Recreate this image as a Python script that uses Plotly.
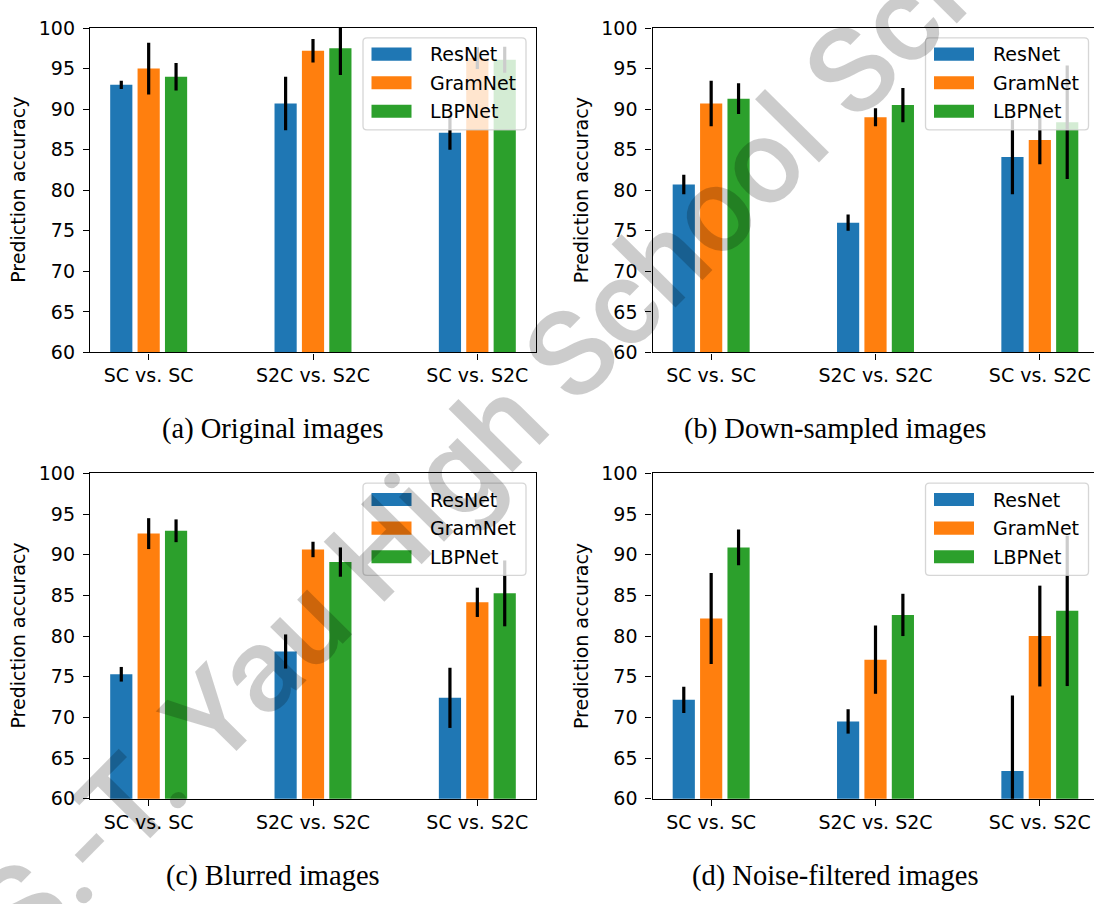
import plotly.graph_objects as go

W, H = 1094, 904

CATEGORIES = ["SC vs. SC", "S2C vs. S2C", "SC vs. S2C"]
MODELS = ["ResNet", "GramNet", "LBPNet"]
COLORS = ["#1f77b4", "#ff7f0e", "#2ca02c"]
CAPTIONS = [
    "(a) Original images",
    "(b) Down-sampled images",
    "(c) Blurred images",
    "(d) Noise-filtered images",
]
Y_TICKS = [60, 65, 70, 75, 80, 85, 90, 95, 100]

# mean accuracy and spread per model, one list per category order above
original_resnet = [93.0, 90.7, 87.1]
original_resnet_err = [0.5, 3.3, 2.1]
original_gramnet = [95.0, 97.2, 96.3]
original_gramnet_err = [3.2, 1.45, 1.35]
original_lbpnet = [94.0, 97.5, 96.1]
original_lbpnet_err = [1.7, 3.3, 1.6]

downsampled_resnet = [80.7, 76.0, 84.1]
downsampled_resnet_err = [1.2, 1.0, 4.6]
downsampled_gramnet = [90.7, 89.0, 86.2]
downsampled_gramnet_err = [2.8, 1.1, 3.0]
downsampled_lbpnet = [91.3, 90.5, 88.4]
downsampled_lbpnet_err = [1.9, 2.1, 7.0]

blurred_resnet = [75.3, 78.1, 72.4]
blurred_resnet_err = [0.9, 2.1, 3.7]
blurred_gramnet = [92.6, 90.65, 84.15]
blurred_gramnet_err = [1.9, 0.95, 1.8]
blurred_lbpnet = [92.95, 89.1, 85.25]
blurred_lbpnet_err = [1.4, 1.8, 4.05]

filtered_resnet = [72.15, 69.5, 63.4]
filtered_resnet_err = [1.6, 1.5, 9.3]
filtered_gramnet = [82.15, 77.1, 80.0]
filtered_gramnet_err = [5.6, 4.2, 6.2]
filtered_lbpnet = [90.9, 82.6, 83.1]
filtered_lbpnet_err = [2.2, 2.6, 9.25]

PANELS = [
    ([original_resnet, original_gramnet, original_lbpnet],
     [original_resnet_err, original_gramnet_err, original_lbpnet_err]),
    ([downsampled_resnet, downsampled_gramnet, downsampled_lbpnet],
     [downsampled_resnet_err, downsampled_gramnet_err, downsampled_lbpnet_err]),
    ([blurred_resnet, blurred_gramnet, blurred_lbpnet],
     [blurred_resnet_err, blurred_gramnet_err, blurred_lbpnet_err]),
    ([filtered_resnet, filtered_gramnet, filtered_lbpnet],
     [filtered_resnet_err, filtered_gramnet_err, filtered_lbpnet_err]),
]

# axes boxes in pixels: left, right, top, bottom (right column runs past the page edge)
BOXES = [
    (90.0, 536.0, 17.5, 350.0),
    (652.5, 1098.5, 17.5, 350.0),
    (90.0, 536.0, 474.0, 807.3),
    (652.5, 1098.5, 474.0, 807.3),
]
X_MIN, X_MAX = -0.357, 2.357
BAR_OFFSETS = [-1 / 6, 0.0, 1 / 6]
BAR_WIDTH = 0.135

TICK_FONT = dict(family="DejaVu Sans", size=19, color="black")
CAPTION_FONT = dict(family="Liberation Serif", size=28.5, color="black")


def fx(px):
    return px / W


def fy(py):
    return 1 - py / H


fig = go.Figure()
shapes = []
annotations = []

for p, ((means, errs), (left, right, top, bottom)) in enumerate(zip(PANELS, BOXES)):
    suffix = "" if p == 0 else str(p + 1)
    xa, ya = "x" + suffix, "y" + suffix
    for m, model in enumerate(MODELS):
        fig.add_trace(go.Bar(
            x=[i + BAR_OFFSETS[m] for i in range(len(CATEGORIES))],
            y=means[m],
            width=BAR_WIDTH,
            name=model,
            marker=dict(color=COLORS[m], line=dict(width=0)),
            error_y=dict(type="data", array=errs[m], visible=True,
                         color="black", thickness=3.2, width=0),
            xaxis=xa, yaxis=ya, showlegend=False,
        ))

    span = (right - left) / (X_MAX - X_MIN)
    vis_right = min(right, W)
    x_hi = X_MIN + (vis_right - left) / span
    clipped = right > W

    fig.layout["xaxis" + suffix] = dict(
        domain=[fx(left), fx(vis_right)], anchor=ya, range=[X_MIN, x_hi],
        tickvals=list(range(len(CATEGORIES))), ticktext=CATEGORIES,
        ticks="outside", ticklen=6, tickwidth=1.3, tickcolor="black",
        showline=True, linecolor="black", linewidth=1.3, mirror=True,
        showgrid=False, zeroline=False, tickfont=TICK_FONT,
    )
    fig.layout["yaxis" + suffix] = dict(
        domain=[fy(bottom), fy(top)], anchor=xa, range=[60, 100],
        tickvals=Y_TICKS, ticks="outside", ticklen=6, tickwidth=1.3,
        tickcolor="black", showline=True, linecolor="black", linewidth=1.3,
        mirror=not clipped, showgrid=False, zeroline=False,
        tickfont=TICK_FONT, ticklabelstandoff=4,
    )

    # y-axis title
    annotations.append(dict(
        text="Prediction accuracy", xref="paper", yref="paper",
        x=fx(left - 71.5), y=fy((top + bottom) / 2), textangle=-90,
        showarrow=False, xanchor="center", yanchor="middle", font=TICK_FONT,
    ))

    # caption under the panel
    cap_y = 428.5 if top < 400 else 887.0
    annotations.append(dict(
        text=CAPTIONS[p], xref="paper", yref="paper",
        x=fx(left + 182.5), y=fy(cap_y), showarrow=False,
        xanchor="center", yanchor="middle", font=CAPTION_FONT,
    ))

    # legend box (upper right, rounded frame)
    lw, lh = 163.0, 94.4
    lx1 = right - 10.0
    lx0 = lx1 - lw
    ly0 = top + 10.0
    ly1 = ly0 + lh
    r = 4.0
    path = (
        f"M{fx(lx0 + r)},{fy(ly0)} L{fx(lx1 - r)},{fy(ly0)} "
        f"Q{fx(lx1)},{fy(ly0)} {fx(lx1)},{fy(ly0 + r)} "
        f"L{fx(lx1)},{fy(ly1 - r)} Q{fx(lx1)},{fy(ly1)} {fx(lx1 - r)},{fy(ly1)} "
        f"L{fx(lx0 + r)},{fy(ly1)} Q{fx(lx0)},{fy(ly1)} {fx(lx0)},{fy(ly1 - r)} "
        f"L{fx(lx0)},{fy(ly0 + r)} Q{fx(lx0)},{fy(ly0)} {fx(lx0 + r)},{fy(ly0)} Z"
    )
    shapes.append(dict(type="path", path=path, xref="paper", yref="paper",
                       fillcolor="rgba(255,255,255,0.8)",
                       line=dict(color="rgba(204,204,204,0.8)", width=1.3),
                       layer="above"))
    for m, model in enumerate(MODELS):
        cy = ly0 + 16.7 + 29.3 * m
        shapes.append(dict(type="rect", xref="paper", yref="paper",
                           x0=fx(lx0 + 8.5), x1=fx(lx0 + 48.5),
                           y0=fy(cy - 6.7), y1=fy(cy + 6.7),
                           fillcolor=COLORS[m], line=dict(width=0),
                           layer="above"))
        annotations.append(dict(
            text=model, xref="paper", yref="paper",
            x=fx(lx0 + 65.0), y=fy(cy), showarrow=False,
            xanchor="left", yanchor="middle", font=TICK_FONT,
        ))

# diagonal watermark across the whole sheet
annotations.append(dict(
    text="S.-T. Yau High School Science", xref="paper", yref="paper",
    x=fx(561), y=fy(363), textangle=-45.3, showarrow=False,
    xanchor="center", yanchor="middle",
    font=dict(family="Roboto", size=120, weight=500, color="rgba(0,0,0,0.2)"),
))

fig.update_layout(
    width=W, height=H, margin=dict(l=0, r=0, t=0, b=0),
    paper_bgcolor="white", plot_bgcolor="white",
    barmode="overlay", showlegend=False,
    shapes=shapes, annotations=annotations,
)

fig.write_html("out.html", include_plotlyjs=True, full_html=True,
               config={"displayModeBar": False})
